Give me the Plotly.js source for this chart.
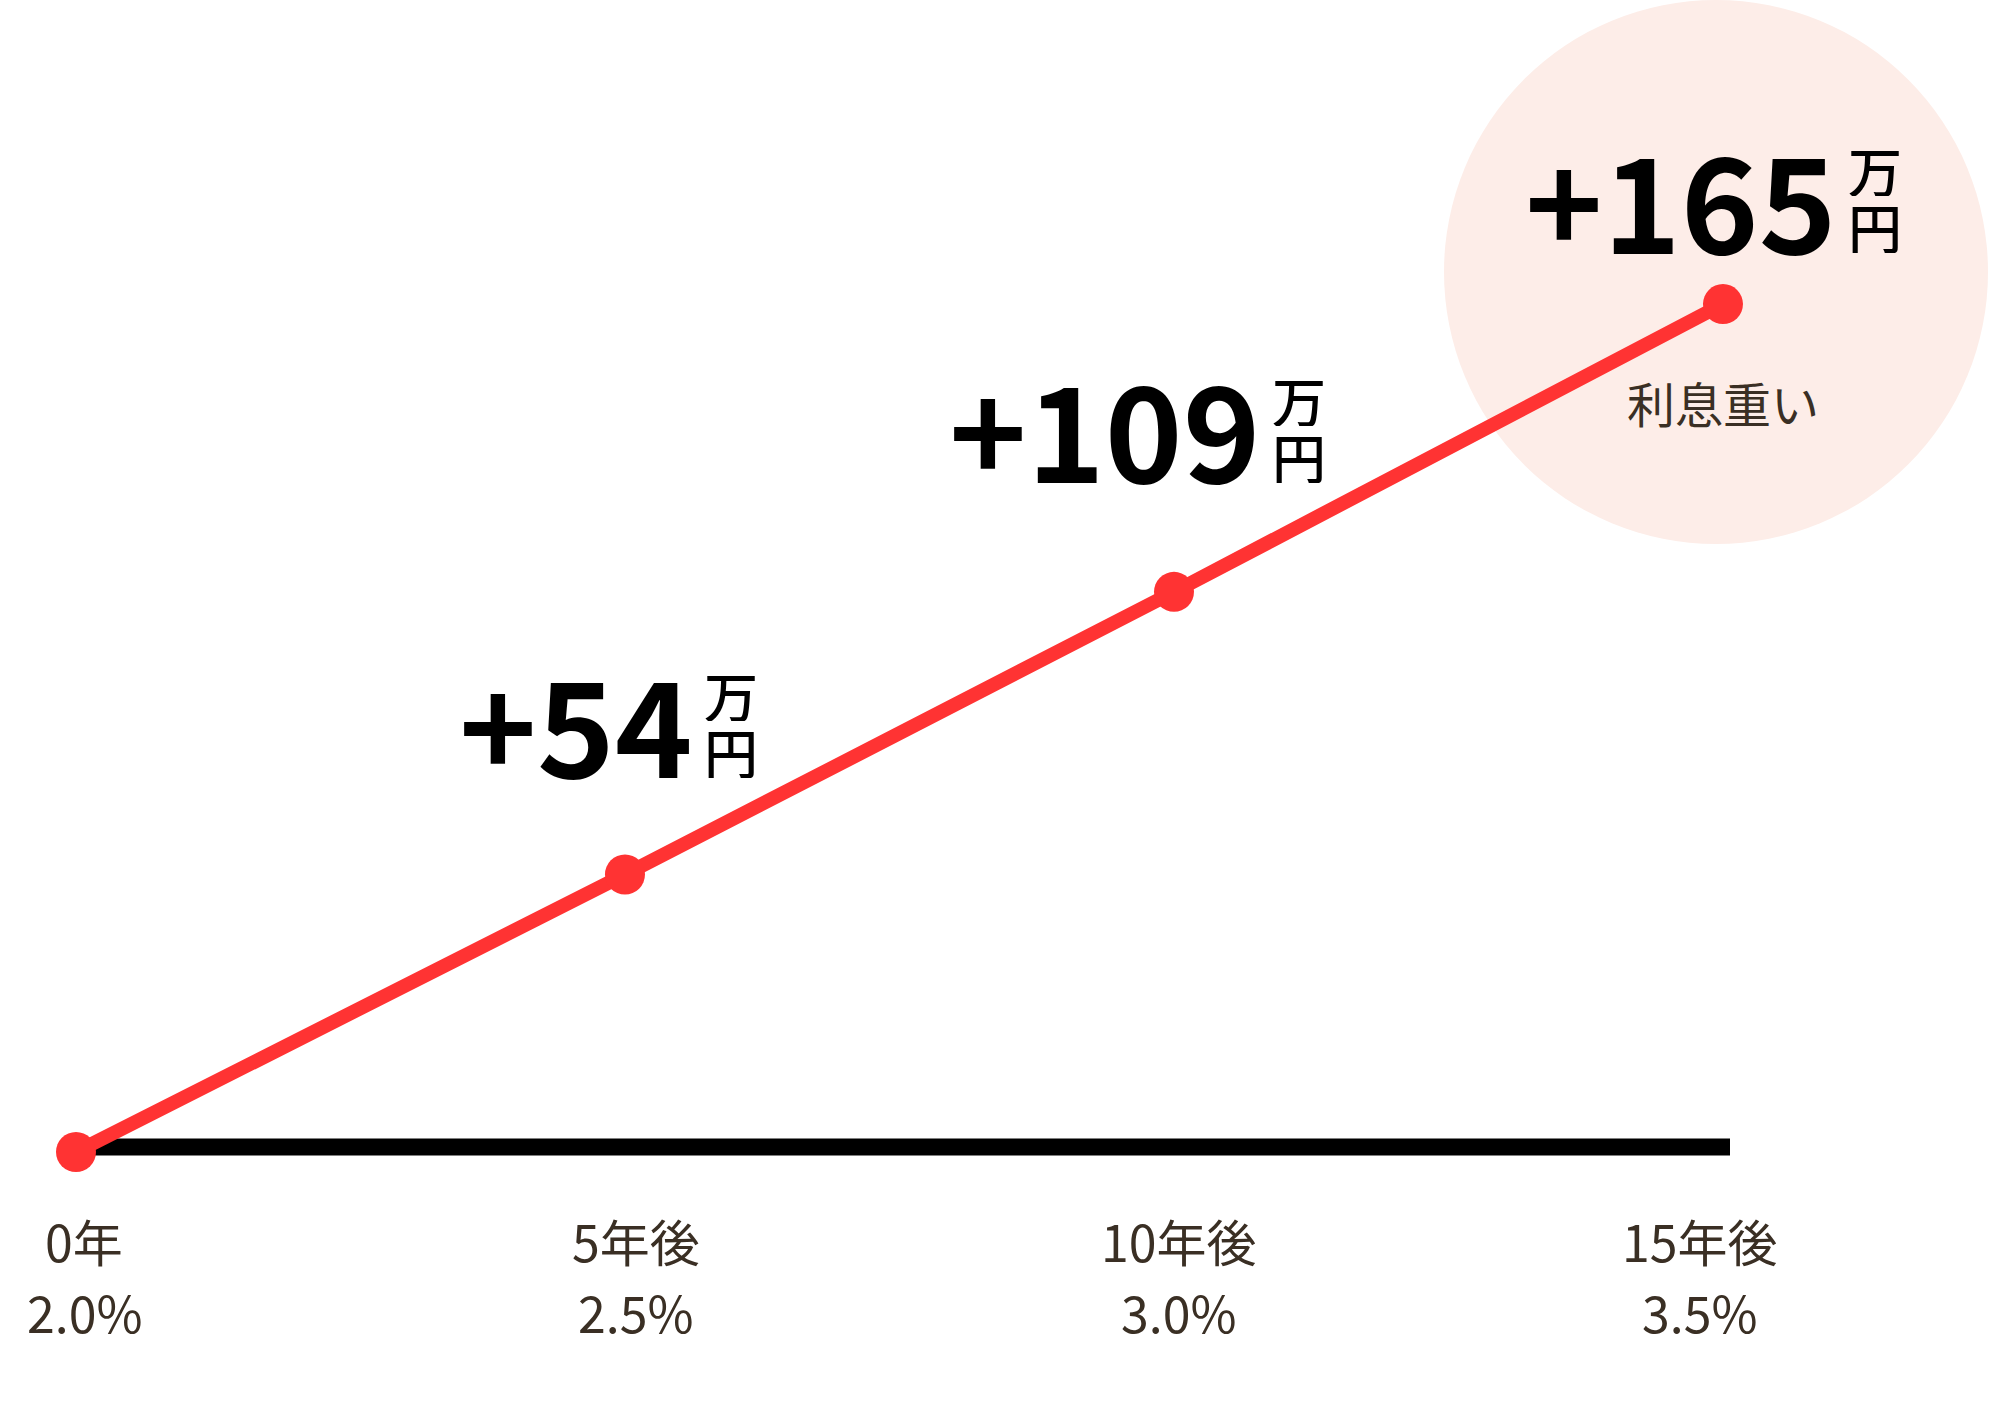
<!DOCTYPE html>
<html>
<head>
<meta charset="utf-8">
<script src="https://cdn.plot.ly/plotly-3.0.1.min.js"></script>
<style>html,body{margin:0;padding:0;background:#fff;}#chart{width:2000px;height:1414px;}</style>
</head>
<body>
<div id="chart"></div>
<script>
// ---- data ----
const years = [0, 5, 10, 15];
const increase = [0, 54, 109, 165];          // 万円
const yearLabels = ['0年', '5年後', '10年後', '15年後'];
const rateLabels = ['2.0%', '2.5%', '3.0%', '3.5%'];
const unitTop = '万';
const unitBottom = '円';
const noteLabel = '利息重い';

// ---- style ----
const RED = '#ff3333';
const TEXT = '#3a2f24';
const FONT = '"Noto Sans CJK JP", "Noto Sans", sans-serif';
const numDx = [0, 70, 89, 116];   // px shift of number right edge
const numDy = [0, 154, 166, 108]; // px shift (up) of number box middle
const labDx = [8, 11, 5, -23];

const annotations = [];
for (let i = 1; i < years.length; i++) {
  annotations.push({
    x: years[i], y: increase[i], xref: 'x', yref: 'y',
    text: '+' + increase[i], showarrow: false,
    xanchor: 'right', yanchor: 'middle',
    xshift: numDx[i], yshift: numDy[i],
    font: {family: FONT, size: 132, color: '#000', weight: 'bold'}
  });
  annotations.push({
    x: years[i], y: increase[i], xref: 'x', yref: 'y',
    text: unitTop, showarrow: false,
    xanchor: 'center', yanchor: 'middle', height: 54, borderpad: 0,
    xshift: numDx[i] + 36, yshift: numDy[i] + 27,
    font: {family: FONT, size: 54, color: '#000', weight: 500}
  });
  annotations.push({
    x: years[i], y: increase[i], xref: 'x', yref: 'y',
    text: unitBottom, showarrow: false,
    xanchor: 'center', yanchor: 'middle', height: 54, borderpad: 0,
    xshift: numDx[i] + 36, yshift: numDy[i] - 30,
    font: {family: FONT, size: 54, color: '#000', weight: 500}
  });
}
const last = years.length - 1;
annotations.push({
  x: years[last], y: increase[last], xref: 'x', yref: 'y',
  text: noteLabel, showarrow: false, xanchor: 'center', yanchor: 'middle',
  yshift: -98, font: {family: FONT, size: 48, color: TEXT}
});
for (let i = 0; i < years.length; i++) {
  annotations.push({
    x: years[i], y: 0.123, xref: 'x', yref: 'paper',
    text: yearLabels[i], showarrow: false, xanchor: 'center', yanchor: 'middle',
    xshift: labDx[i], font: {family: FONT, size: 50, color: TEXT}
  });
  annotations.push({
    x: years[i], y: 0.0728, xref: 'x', yref: 'paper',
    text: rateLabels[i], showarrow: false, xanchor: 'center', yanchor: 'middle',
    xshift: labDx[i], font: {family: FONT, size: 50, color: TEXT}
  });
}

const trace = {
  x: years, y: increase, type: 'scatter', mode: 'lines+markers',
  line: {color: RED, width: 14},
  marker: {color: RED, size: 40},
  hoverinfo: 'skip', cliponaxis: false
};

const layout = {
  width: 2000, height: 1414,
  margin: {l: 0, r: 0, t: 0, b: 0},
  paper_bgcolor: '#ffffff', plot_bgcolor: 'rgba(0,0,0,0)',
  showlegend: false,
  xaxis: {range: [-0.6922, 17.523], visible: false, fixedrange: true},
  yaxis: {range: [-50.98, 224.17], visible: false, fixedrange: true},
  shapes: [
    {type: 'circle', xref: 'paper', yref: 'paper', layer: 'below',
     x0: 0.722, x1: 0.994, y0: 0.6153, y1: 1.0,
     fillcolor: '#fdede8', line: {width: 0}},
    {type: 'line', xref: 'paper', yref: 'paper', layer: 'below',
     x0: 0.038, x1: 0.865, y0: 0.1888, y1: 0.1888,
     line: {color: '#000', width: 17}}
  ],
  annotations: annotations
};

Plotly.newPlot('chart', [trace], layout, {staticPlot: true, displayModeBar: false});
</script>
</body>
</html>
